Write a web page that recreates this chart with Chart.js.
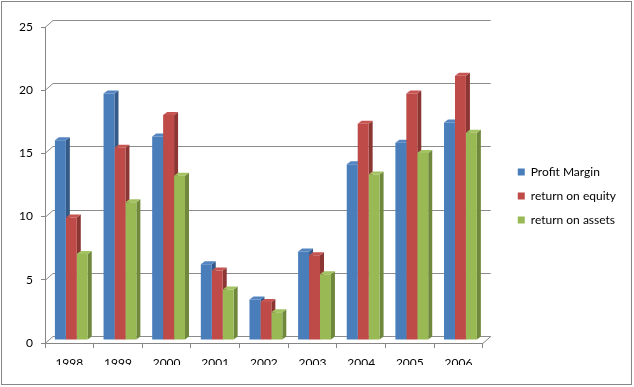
<!DOCTYPE html>
<html lang="en">
<head>
  <meta charset="UTF-8">
  <title>Profit Margin, ROE and ROA 1998-2006</title>
  <script src="https://cdn.jsdelivr.net/npm/chart.js"></script>
  <style>
    html, body { margin: 0; padding: 0; background: #fff; }
  </style>
</head>
<body>
  <canvas id="ratioChart" width="634" height="387"></canvas>

  <script>
    // values
    const years = ['1998', '1999', '2000', '2001', '2002', '2003', '2004', '2005', '2006'];
    const profitMargin   = [15.8, 19.5, 16.1, 6.0, 3.2, 7.0, 13.9, 15.6, 17.2];
    const returnOnEquity = [9.7, 15.2, 17.8, 5.5, 3.0, 6.7, 17.1, 19.5, 20.9];
    const returnOnAssets = [6.8, 10.9, 13.0, 4.0, 2.2, 5.2, 13.1, 14.8, 16.4];
    const seriesNames = ['Profit Margin', 'return on equity', 'return on assets'];

    // front / side / top colours per series
    const frontColors = ['#4a7ebb', '#be4b48', '#98b954'];
    const sideColors  = ['#345a89', '#8c3633', '#6f883c'];
    const topColors   = ['#5585c0', '#c65552', '#a3c262'];

    const FONT = { family: 'Lato', size: 12 };
    const AXIS_GREY = '#868686';

    // fake 3D: back wall offset and bar thickness
    const WALL_DX = 8, WALL_DY = 7;
    const BAR_DX = 4, BAR_DY = 3;
    const BAR_SHIFT_X = 2, BAR_SHIFT_Y = 3;

    const excel3d = {
      id: 'excel3d',
      beforeDraw(chart) {
        const { ctx, width, height } = chart;
        ctx.save();
        ctx.fillStyle = '#fff';
        ctx.fillRect(0, 0, width, height);
        ctx.strokeStyle = AXIS_GREY;
        ctx.lineWidth = 1;
        ctx.strokeRect(1.5, 1.5, width - 4, height - 4);
        ctx.restore();
      },
      beforeDatasetsDraw(chart) {
        const { ctx, chartArea: a, scales: { y } } = chart;

        // back wall gridlines with the little diagonals from the front axis
        ctx.save();
        ctx.strokeStyle = '#8c8c8c';
        ctx.lineWidth = 1;
        ctx.beginPath();
        y.ticks.forEach(t => {
          const py = Math.round(y.getPixelForValue(t.value)) + 0.5;
          ctx.moveTo(a.left, py);
          ctx.lineTo(a.left + WALL_DX, py - WALL_DY);
          ctx.lineTo(a.right + WALL_DX, py - WALL_DY);
        });
        const fy = Math.round(a.bottom) + 0.5;
        ctx.moveTo(a.right, fy);
        ctx.lineTo(a.right + WALL_DX, fy - WALL_DY);
        ctx.stroke();
        ctx.restore();

        // bars sit a bit behind the front plane
        ctx.save();
        ctx.translate(BAR_SHIFT_X, -BAR_SHIFT_Y);

        // side and top faces, drawn under all front faces
        const metas = chart.data.datasets.map((d, i) => chart.getDatasetMeta(i));
        years.forEach((yr, idx) => {
          metas.forEach((meta, di) => {
            const bar = meta.data[idx];
            if (!bar) return;
            const { x, y: top, base, width } = bar.getProps(['x', 'y', 'base', 'width'], true);
            const l = x - width / 2, r = x + width / 2;
            ctx.fillStyle = sideColors[di];
            ctx.beginPath();
            ctx.moveTo(r, base);
            ctx.lineTo(r, top);
            ctx.lineTo(r + BAR_DX, top - BAR_DY);
            ctx.lineTo(r + BAR_DX, base - BAR_DY);
            ctx.closePath();
            ctx.fill();
            ctx.fillStyle = topColors[di];
            ctx.beginPath();
            ctx.moveTo(l, top);
            ctx.lineTo(l + BAR_DX, top - BAR_DY);
            ctx.lineTo(r + BAR_DX, top - BAR_DY);
            ctx.lineTo(r, top);
            ctx.closePath();
            ctx.fill();
          });
        });
      },
      afterDatasetsDraw(chart) {
        chart.ctx.restore();
      }
    };

    new Chart(document.getElementById('ratioChart'), {
      type: 'bar',
      data: {
        labels: years,
        datasets: [profitMargin, returnOnEquity, returnOnAssets].map((vals, i) => ({
          label: seriesNames[i],
          data: vals,
          backgroundColor: frontColors[i],
          borderWidth: 0,
          barPercentage: 1,
          categoryPercentage: 0.675
        }))
      },
      options: {
        responsive: false,
        animation: false,
        events: [],
        layout: { padding: { left: 0, top: 27, right: 8, bottom: 22 } },
        scales: {
          x: {
            grid: { display: true, drawOnChartArea: false, tickLength: 5, color: AXIS_GREY },
            border: { display: true, color: AXIS_GREY },
            ticks: { color: '#000', font: FONT, padding: 8, maxRotation: 0 },
            afterFit(s) { s.height = 22; }
          },
          y: {
            min: 0,
            max: 25,
            grid: { display: true, drawOnChartArea: false, tickLength: 4, color: AXIS_GREY },
            border: { display: true, color: AXIS_GREY },
            ticks: { stepSize: 5, color: '#000', font: FONT, padding: 8 },
            afterFit(s) { s.width = 45; }
          },
          // empty axis, only keeps a gap between the plot and the legend
          gap: {
            type: 'linear',
            position: 'right',
            display: true,
            grid: { display: false },
            border: { display: false },
            ticks: { display: false },
            afterFit(s) { s.width = 23; }
          }
        },
        plugins: {
          legend: {
            position: 'right',
            maxWidth: 200,
            labels: { boxWidth: 7, boxHeight: 7, padding: 12, color: '#000', font: FONT }
          },
          tooltip: { enabled: false }
        }
      },
      plugins: [excel3d]
    });
  </script>
</body>
</html>
